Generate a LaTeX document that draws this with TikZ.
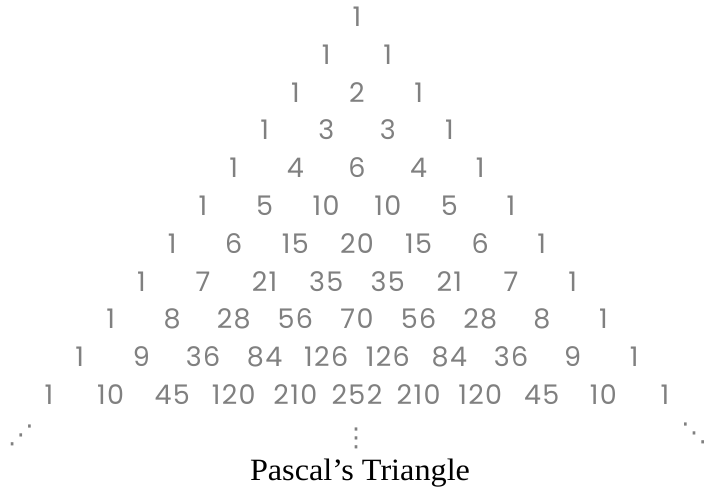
\documentclass[tikz,border=0pt]{standalone}
\usepackage{fontspec}
\setmainfont{Liberation Serif}
\newfontfamily\numfont{Poppins}[LetterSpace=5]
\newfontfamily\dotfont{DejaVu Sans}
\usetikzlibrary{positioning}
\definecolor{numcol}{RGB}{128, 128, 128}
\tikzset{
  num/.style={font=\numfont\fontsize{27}{27}\selectfont, text=numcol, inner sep=1pt,
              text height=19pt, text depth=0pt},
  dotsbox/.style={font=\dotfont\fontsize{26}{26}\selectfont, text=numcol, inner sep=0pt},
  caption/.style={font=\addfontfeature{FakeStretch=1.04}\fontsize{31}{31}\selectfont,
                  text=black, inner sep=0pt, anchor=base},
}

\begin{document}
\begin{tikzpicture}[x=1pt, y=1pt]
  \useasboundingbox (0,0) rectangle (709,489);

  % rows of the triangle, C(n,k) built from C(n,k-1)
  \foreach \n in {0,...,10}{
    \xdef\binval{1}
    \foreach \k in {0,...,\n}{
      \node[num] (p\n-\k) at ({357+(2*\k-\n)*30.8}, {472-\n*37.8}) {\binval};
      \pgfmathtruncatemacro\nextval{round(\binval*(\n-\k)/(\k+1))}
      \xdef\binval{\nextval}
    }
  }

  \node[dotsbox] (dl) at (21, 54) {⋰};
  \node[dotsbox] (dm) at (356, 51) {⋮};
  \node[dotsbox] (dr) at (694, 56) {⋱};

  \node[caption] (title) at (360, 8) {Pascal’s Triangle};
\end{tikzpicture}
\end{document}
